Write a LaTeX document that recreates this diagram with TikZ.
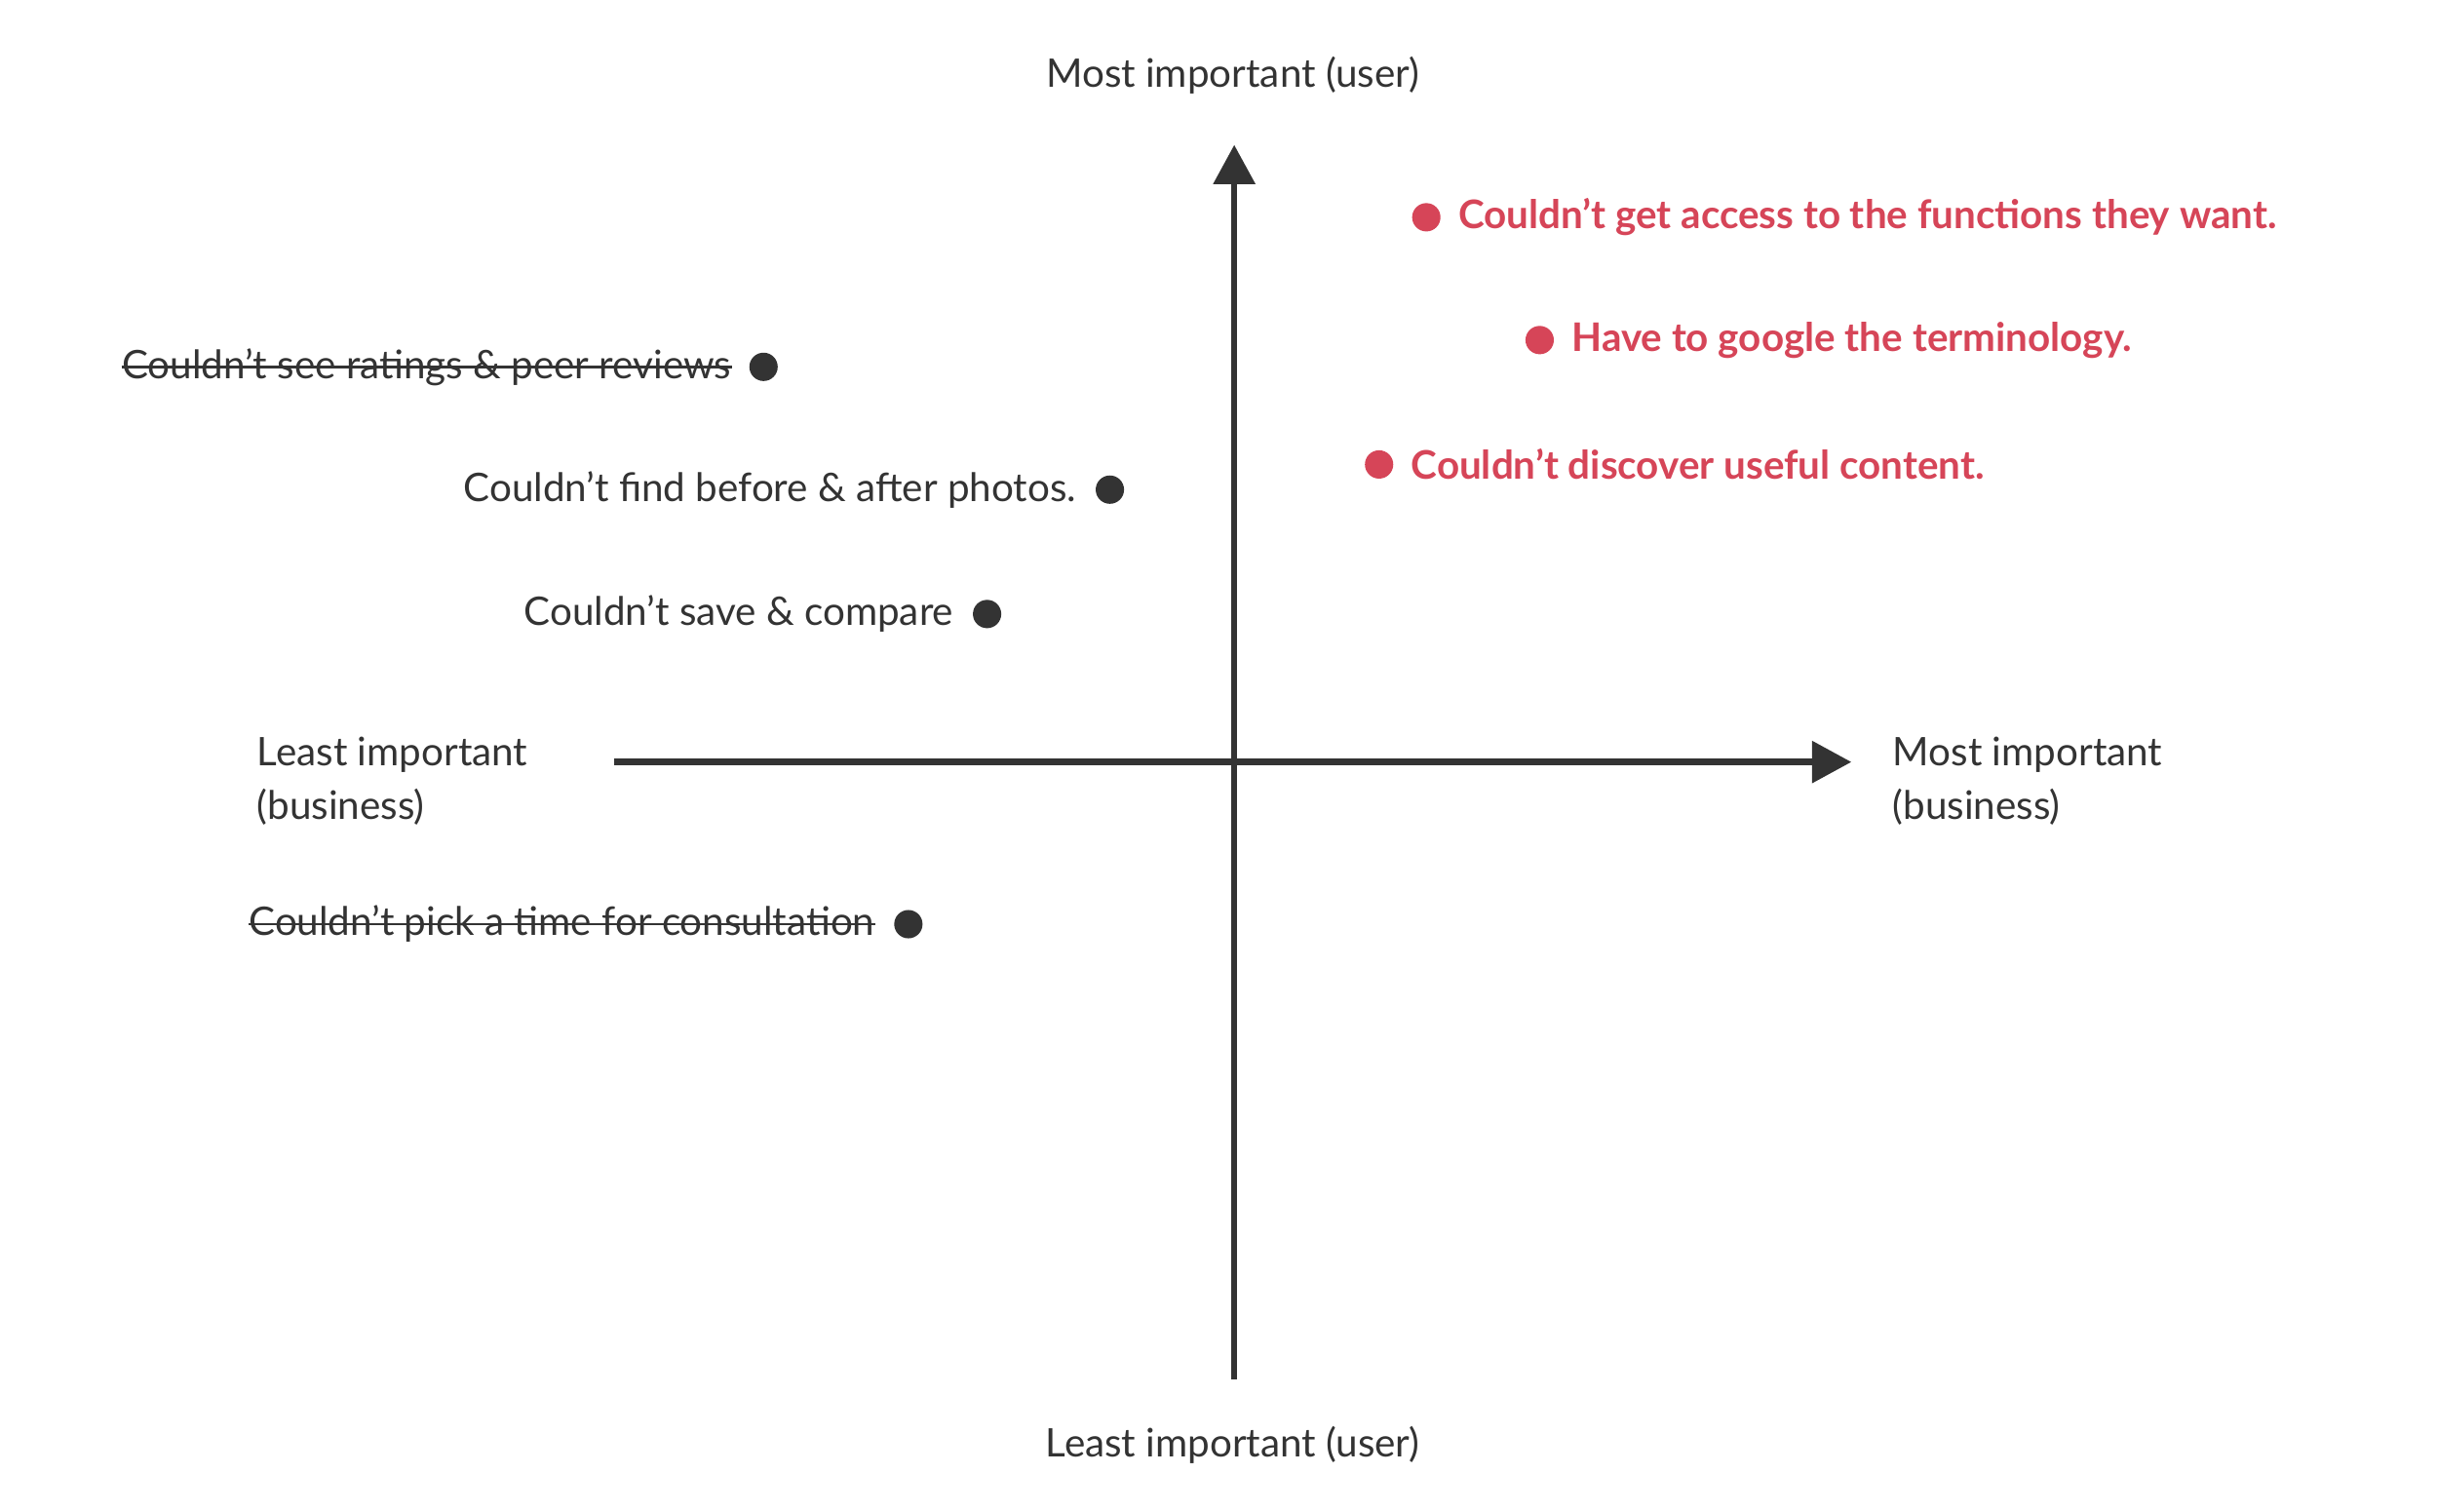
\documentclass[tikz,border=0pt]{standalone}
\usepackage{fontspec}
\setmainfont{Lato}
\usetikzlibrary{arrows.meta}
\definecolor{dk}{HTML}{333333}
\definecolor{rd}{HTML}{D64558}
\begin{document}
\begin{tikzpicture}[x=0.5pt,y=-0.5pt,
  lbl/.style={font=\fontsize{12.5}{17}\selectfont,text=dk,inner sep=0pt},
  rlbl/.style={font=\fontsize{12.5}{17}\selectfont\bfseries,text=rd,inner sep=0pt,anchor=west},
  dlbl/.style={lbl,anchor=east},
  dot/.style={circle,fill=#1,minimum size=9pt,inner sep=0pt},
  ax/.style={draw=dk,line width=2pt,-{Triangle[length=12.5pt,width=13pt]}}]
\useasboundingbox[fill=white] (0,0) rectangle (1548,960);
\coordinate (vb) at (784,876);
\coordinate (vt) at (784,92);
\coordinate (hl) at (390,484);
\coordinate (hr) at (1176,484);
\draw[ax] (vb) -- (vt);
\draw[ax] (hl) -- (hr);
\node[lbl] (tu) at (783,48) {Most important (user)};
\node[lbl] (bu) at (783,918) {Least important (user)};
\node[lbl,anchor=west,align=left] (lb) at (163,496) {Least important\\(business)};
\node[lbl,anchor=west,align=left] (mb) at (1202,496) {Most important\\(business)};
% red
\node[dot=rd] (r1) at (906,138) {};
\node[rlbl] (t1) at (926,138) {Couldn’t get access to the functions they want.};
\node[dot=rd] (r2) at (978,216) {};
\node[rlbl] (t2) at (998,216) {Have to google the terminology.};
\node[dot=rd] (r3) at (876,295) {};
\node[rlbl] (t3) at (896,295) {Couldn’t discover useful content.};
% dark
\node[dot=dk] (d1) at (485,233) {};
\node[dlbl] (s1) at (465,233) {Couldn’t see ratings \& peer reviews};
\draw[dk,line width=0.8pt] (s1.west) -- (s1.east);
\node[dot=dk] (d2) at (705,311) {};
\node[dlbl] (s2) at (684,311) {Couldn’t find before \& after photos.};
\node[dot=dk] (d3) at (627,390) {};
\node[dlbl] (s3) at (606,390) {Couldn’t save \& compare};
\node[dot=dk] (d4) at (577,587) {};
\node[dlbl] (s4) at (556,587) {Couldn’t pick a time for consultation};
\draw[dk,line width=0.8pt] (s4.west) -- (s4.east);
\end{tikzpicture}
\end{document}
